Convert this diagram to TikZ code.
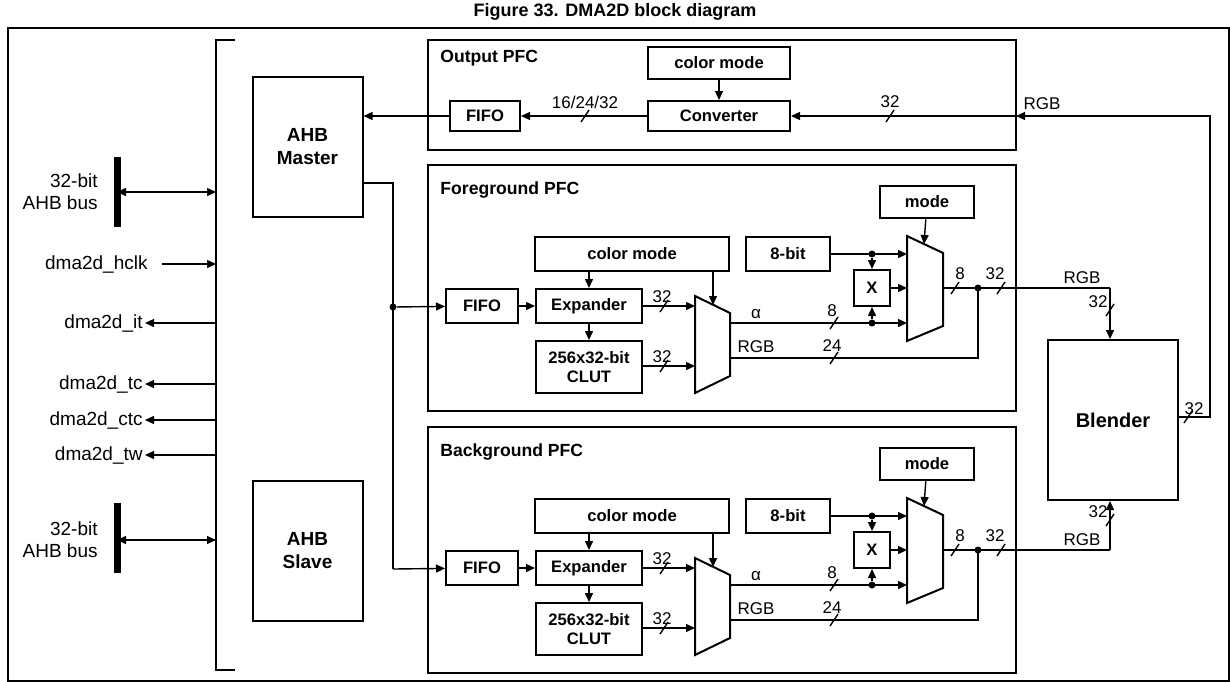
\documentclass[tikz,border=0pt]{standalone}
\usepackage{fontspec}
\setmainfont{Liberation Sans}
\usetikzlibrary{arrows.meta}
\begin{document}
\begin{tikzpicture}[x=0.5pt,y=-0.5pt,
  box/.style={draw,line width=1pt,font=\bfseries\fontsize{8.3}{9.5}\selectfont,align=center,inner sep=0pt},
  frame/.style={draw,line width=0.8pt},
  w/.style={line width=0.7pt},
  a/.style={w,-{Triangle[length=4.5pt,width=4pt]}},
  lbl/.style={font=\fontsize{8.5}{9.5}\selectfont,inner sep=1pt},
  ttl/.style={font=\bfseries\fontsize{8.8}{10}\selectfont,anchor=west,inner sep=0pt},
  dot/.style={circle,fill,inner sep=0pt,minimum size=3.5pt}]
\useasboundingbox (0,0) rectangle (1230,681);
\node[font=\bfseries\fontsize{9}{10}\selectfont] (title) at (615,12) {Figure 33. DMA2D block diagram};
\draw[frame,line width=1pt] (8,28) rectangle (1229,681);
% bus bracket
\coordinate (bt) at (216,40); \coordinate (bb) at (216,670);
\draw[w] (235,40) -- (bt) -- (bb) -- (235,670);
% AHB buses
\draw[line width=3.5pt] (117,157) -- (117,227);
\draw[line width=3.5pt] (117,503) -- (117,573);
\coordinate (b1) at (117,192); \coordinate (b2) at (117,540);
\draw[w,{Triangle[length=4.5pt,width=4pt]}-{Triangle[length=4.5pt,width=4pt]}] (b1) -- (216,192);
\draw[w,{Triangle[length=4.5pt,width=4pt]}-{Triangle[length=4.5pt,width=4pt]}] (b2) -- (216,540);
\node[lbl,align=right,anchor=east,font=\fontsize{9.5}{11}\selectfont] (bus1) at (100,192) {32-bit\\AHB bus};
\node[lbl,align=right,anchor=east,font=\fontsize{9.5}{11}\selectfont] (bus2) at (100,540) {32-bit\\AHB bus};
\node[lbl,anchor=east,font=\fontsize{9.5}{11}\selectfont] (hclk) at (150,264) {dma2d\_hclk};
\draw[a] (162,264) -- (216,264);
\foreach \n/\y in {it/323,tc/384,ctc/420,tw/455}{
  \node[lbl,anchor=east,font=\fontsize{9.5}{11}\selectfont] (\n) at (145,\y) {dma2d\_\n};
  \draw[a] (216,\y) -- (\n.east);
}
% AHB boxes
\node[box,minimum width=55pt,minimum height=70pt,font=\bfseries\fontsize{9.5}{11.5}\selectfont] (mst) at (307.5,147) {AHB\\Master};
\node[box,minimum width=55pt,minimum height=70pt,font=\bfseries\fontsize{9.5}{11.5}\selectfont] (slv) at (307.5,551) {AHB\\Slave};
% Output PFC
\draw[frame] (428,40) rectangle (1016,150);
\node[ttl] (otl) at (440,58) {Output PFC};
\node[box,minimum width=71pt,minimum height=16pt] (ocm) at (719,63) {color mode};
\node[box,minimum width=71pt,minimum height=15pt] (conv) at (719,116) {Converter};
\node[box,minimum width=35pt,minimum height=15pt] (ofifo) at (485,116) {FIFO};
\draw[a] (ocm) -- (conv);
\draw[a] (conv) -- (ofifo);
\draw[a] (ofifo) -- (mst.east|-ofifo);
\draw[w] (581,122) -- (589,110); \node[lbl] at (585,102) {16/24/32};
\coordinate (oin) at (1016,116);
\draw[a] (oin) -- (conv);
\draw[w] (886,122) -- (894,110); \node[lbl] at (890,102) {32};
\node[lbl] at (1042,104) {RGB};
% Blender
\node[box,minimum width=65pt,minimum height=80pt,font=\bfseries\fontsize{10}{11}\selectfont] (bl) at (1113,420) {Blender};
\coordinate (rc) at (1210,417);
\draw[a] (bl.east|-rc) -- (rc) -- (1210,116) -- (oin);
\draw[w] (1184,423) -- (1192,411); \node[lbl] at (1194,409) {32};
% master to FIFOs
\coordinate (mj) at (393,183);
\draw[w] (mst.east|-mj) -- (mj) -- (393,569);
\node[dot] (jd) at (393,307) {};
\newcommand\mypfc[3]{%
 \begin{scope}[yshift=#2*-0.5pt]
 \draw[frame] (428,165) rectangle (1016,411);
 \node[ttl] (#1ttl) at (440,190) {#3};
 \node[box,minimum width=47pt,minimum height=16pt] (#1mode) at (927,202) {mode};
 \node[box,minimum width=97pt,minimum height=17pt] (#1cm) at (632,254) {color mode};
 \node[box,minimum width=42pt,minimum height=17pt] (#1eb) at (788,254) {8-bit};
 \node[box,minimum width=36pt,minimum height=17pt] (#1fifo) at (482,306) {FIFO};
 \node[box,minimum width=53pt,minimum height=17pt] (#1exp) at (589,306) {Expander};
 \node[box,minimum width=53pt,minimum height=26pt] (#1clut) at (589,367) {256x32-bit\\CLUT};
 \node[box,minimum width=18pt,minimum height=18pt] (#1x) at (872,288) {X};
 \coordinate (#1mx) at (713,305);
 \coordinate (#1ci) at (695,366);
 \draw[line width=1pt] (695,296) -- (730,313) -- (730,376) -- (695,393) -- cycle;
 \draw[line width=1pt] (907,236) -- (943,253) -- (943,326) -- (907,341) -- cycle;
 \draw[a] (#1fifo) -- (#1exp);
 \draw[a] (#1cm.south-|#1exp) -- (#1exp);
 \draw[a] (#1exp) -- (#1clut);
 \draw[a] (#1cm.south-|#1mx) -- (#1mx);
 \draw[a] (#1exp.east) -- (695,306);
 \draw[a] (#1clut.east|-#1ci) -- (#1ci);
 \draw[w] (660,312) -- (668,300); \node[lbl] at (662,297) {32};
 \draw[w] (660,372) -- (668,360); \node[lbl] at (662,357) {32};
 \draw[a] (#1mode) -- (924,244);
 \draw[a] (#1eb.east) -- (907,254);
 \node[dot] (#1d1) at (872,254) {};
 \draw[a] (#1d1) -- (#1x.north);
 \draw[a] (730,323) -- (907,323);
 \node[dot] (#1d2) at (872,323) {};
 \draw[a] (#1d2) -- (#1x.south);
 \draw[a] (#1x.east) -- (907,288);
 \node[lbl] at (756,314) {α};
 \draw[w] (830,329) -- (838,317); \node[lbl] at (832,311) {8};
 \draw[w] (730,358) -- (978,358) -- (978,288);
 \node[lbl] at (756,347) {RGB};
 \draw[w] (830,364) -- (838,352); \node[lbl] at (832,346) {24};
 \draw[w] (943,288) -- (1110,288);
 \node[dot] (#1d3) at (978,288) {};
 \draw[w] (951,294) -- (959,282); \node[lbl] at (960,274) {8};
 \draw[w] (997,294) -- (1005,282); \node[lbl] at (995,274) {32};
 \node[lbl] at (1082,278) {RGB};
 \coordinate (#1out) at (1110,288);
 \end{scope}}
\mypfc{f}{0}{Foreground PFC}
\mypfc{g}{262}{Background PFC}
\draw[a] (jd) -- (ffifo);
\draw[a] (393,569) -- (gfifo);
\draw[a] (fout) -- (bl.north-|fout);
\draw[w] (1106,316) -- (1114,304); \node[lbl] at (1098,302) {32};
\draw[a] (gout) -- (bl.south-|gout);
\draw[w] (1106,526) -- (1114,514); \node[lbl] at (1098,512) {32};
\end{tikzpicture}
\end{document}
